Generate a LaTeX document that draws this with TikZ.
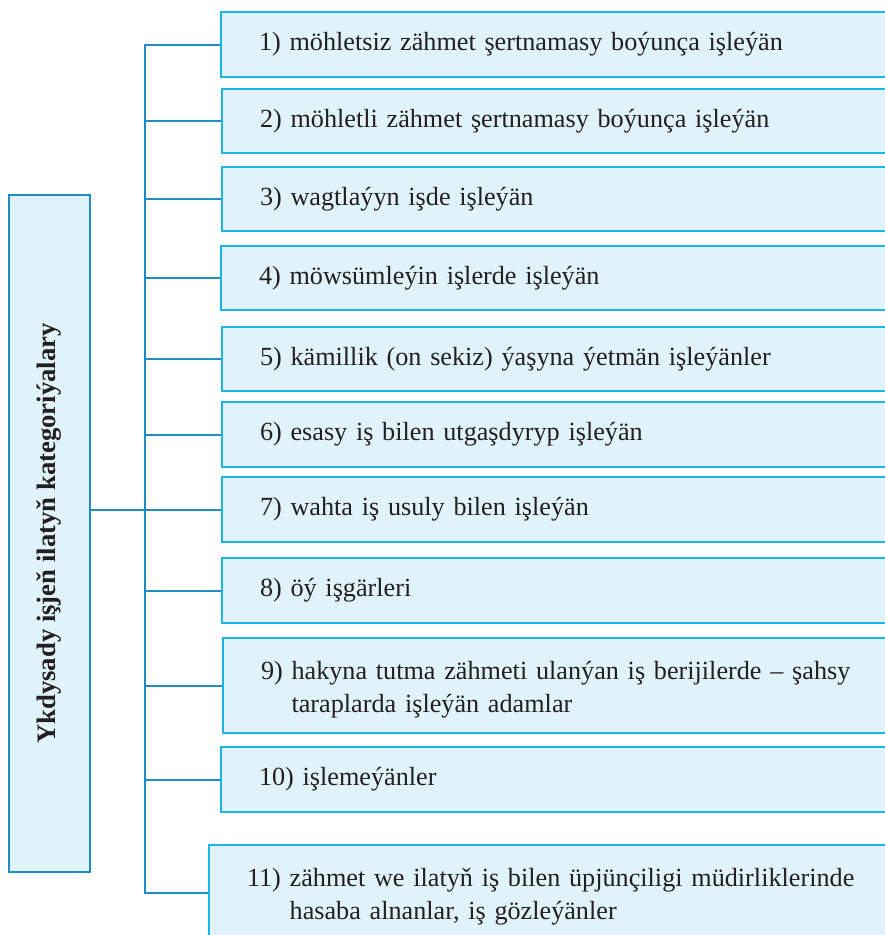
\documentclass[tikz,border=0pt]{standalone}
\usepackage{fontspec}
\setmainfont{Liberation Serif}
\usetikzlibrary{backgrounds}
\definecolor{boxfill}{HTML}{E0F3FA}
\definecolor{boxline}{HTML}{1DB2EA}
\definecolor{connline}{HTML}{1F8DC4}
\definecolor{txt}{HTML}{231F20}
\newcommand{\twoline}[3]{\raisebox{-4pt}[\height][\depth]{\begin{tabular}{@{}l@{\ }l@{}}#1 & #2\\ & #3\end{tabular}}}
\begin{document}
\begin{tikzpicture}[x=1pt,y=-1pt,
  rbox/.style={draw=boxline, fill=boxfill, line width=2pt, anchor=north west,
    minimum width=700pt, text width=624pt, inner xsep=38pt, inner ysep=0pt, outer sep=0pt,
    align=left, text=txt, font=\fontsize{26.2}{33}\selectfont},
  lbox/.style={draw=connline, fill=boxfill, line width=2pt, outer sep=0pt, inner sep=0pt,
    text=txt, font=\fontsize{26.7}{32}\selectfont\bfseries},
  conn/.style={draw=connline, line width=2pt},
]
\useasboundingbox (0,0) rectangle (885,935);
\clip (0,0) rectangle (885,935);

\node[lbox, rotate=90, minimum width=677pt, minimum height=81pt] (root) at (49.5,533.5)
  {Ykdysady işjeň ilatyň kategoriýalary};

\node[rbox, minimum height=65pt] (b1) at (221,12) {1) möhletsiz zähmet şertnamasy boýunça işleýän};
\node[rbox, minimum height=64pt] (b2) at (222,89) {2) möhletli zähmet şertnamasy boýunça işleýän};
\node[rbox, minimum height=64pt] (b3) at (222,167) {3) wagtlaýyn işde işleýän};
\node[rbox, minimum height=64pt] (b4) at (221,246) {4) möwsümleýin işlerde işleýän};
\node[rbox, minimum height=64pt] (b5) at (222,327) {5) kämillik (on sekiz) ýaşyna ýetmän işleýänler};
\node[rbox, minimum height=65pt] (b6) at (222,402) {6) esasy iş bilen utgaşdyryp işleýän};
\node[rbox, minimum height=65pt] (b7) at (222,477) {7) wahta iş usuly bilen işleýän};
\node[rbox, minimum height=65pt] (b8) at (222,558) {8) öý işgärleri};
\node[rbox, minimum height=95pt] (b9) at (223,638)
  {\twoline{9)}{hakyna tutma zähmeti ulanýan iş berijilerde – şahsy}{taraplarda işleýän adamlar}};
\node[rbox, minimum height=65pt] (b10) at (221,747) {10) işlemeýänler};
\node[rbox, minimum height=95pt] (b11) at (209,845)
  {\twoline{11)}{zähmet we ilatyň iş bilen üpjünçiligi müdirliklerinde}{hasaba alnanlar, iş gözleýänler}};

\coordinate (trunk) at (145,0);
\begin{scope}[on background layer]
  \draw[conn] (b1.west) -- (trunk |- b1.west) -- (trunk |- b11.west) -- (b11.west);
  \foreach \b in {b2,b3,b4,b5,b6,b7,b8,b9,b10}
    \draw[conn] (trunk |- \b.west) -- (\b.west);
  \draw[conn] (root.south |- b7.west) -- (trunk |- b7.west);
\end{scope}
\end{tikzpicture}
\end{document}
